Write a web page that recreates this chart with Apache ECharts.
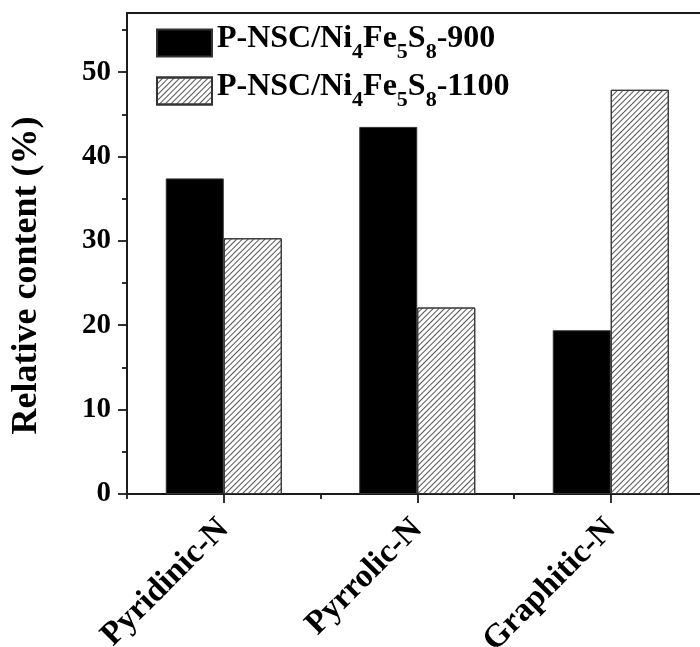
<!DOCTYPE html>
<html>
<head>
<meta charset="utf-8">
<script src="https://cdn.jsdelivr.net/npm/echarts@6/dist/echarts.min.js"></script>
<style>html,body{margin:0;padding:0;background:#fff;}#chart{width:700px;height:647px;}</style>
</head>
<body>
<div id="chart"></div>
<script>
var categories = ['Pyridinic-N', 'Pyrrolic-N', 'Graphitic-N'];
var seriesNames = ['P-NSC/Ni4Fe5S8-900', 'P-NSC/Ni4Fe5S8-1100'];
var legendRich = {
  'P-NSC/Ni4Fe5S8-900': '{m|P-NSC/Ni}{s|4}{m|Fe}{s|5}{m|S}{s|8}{m|-900}',
  'P-NSC/Ni4Fe5S8-1100': '{m|P-NSC/Ni}{s|4}{m|Fe}{s|5}{m|S}{s|8}{m|-1100}'
};
var values900 = [37.4, 43.5, 19.4];
var values1100 = [30.3, 22.1, 47.9];
var yTicks = [0, 10, 20, 30, 40, 50];
var yMinorTicks = [5, 15, 25, 35, 45, 55];

var FONT = '"Liberation Serif", "Times New Roman", serif';
var chart = echarts.init(document.getElementById('chart'), null, {renderer: 'canvas'});
var axisLineStyle = {color: '#1a1a1a', width: 1.8};

chart.setOption({
  backgroundColor: '#fff',
  animation: false,
  grid: {left: 127, top: 13, width: 580.5, height: 481, outerBoundsMode: 'none', containLabel: false,
         show: true, borderColor: '#1a1a1a', borderWidth: 1.8, backgroundColor: 'transparent'},
  legend: {
    orient: 'vertical', left: 151, top: 18, itemWidth: 55, itemHeight: 27, itemGap: 8,
    icon: 'rect',
    data: seriesNames,
    formatter: function (n) { return legendRich[n]; },
    textStyle: {
      fontFamily: FONT, fontWeight: 'bold', color: '#000',
      rich: {
        m: {fontFamily: FONT, fontWeight: 'bold', fontSize: 32, lineHeight: 40, verticalAlign: 'top', color: '#000'},
        s: {fontFamily: FONT, fontWeight: 'bold', fontSize: 22, lineHeight: 22, verticalAlign: 'bottom', color: '#000'}
      }
    }
  },
  xAxis: [{
    type: 'category', data: categories, position: 'bottom', boundaryGap: true,
    axisLine: {show: true, lineStyle: axisLineStyle},
    axisTick: {show: true, alignWithLabel: true, length: 9, lineStyle: axisLineStyle},
    axisLabel: {rotate: 45, margin: 30, fontFamily: FONT, fontWeight: 'bold', fontSize: 33, color: '#000'},
    splitLine: {show: false}
  }, {
    type: 'category', data: categories, position: 'bottom', boundaryGap: true,
    axisLine: {show: false},
    axisTick: {show: true, length: 5, lineStyle: axisLineStyle},
    axisLabel: {show: false},
    splitLine: {show: false}
  }],
  yAxis: [{
    type: 'value', min: 0, max: 57, interval: 10,
    name: 'Relative content (%)', nameLocation: 'middle', nameGap: 82, nameRotate: 90,
    nameTextStyle: {fontFamily: FONT, fontWeight: 'bold', fontSize: 36, color: '#000', padding: [0, 44, 0, 0]},
    axisLine: {show: true, lineStyle: axisLineStyle},
    axisTick: {show: true, length: 9, lineStyle: axisLineStyle, customValues: yTicks},
    axisLabel: {margin: 16, fontFamily: FONT, fontWeight: 'bold', fontSize: 29, color: '#000', customValues: yTicks},
    splitLine: {show: false}
  }, {
    type: 'value', min: 0, max: 57, position: 'left',
    axisLine: {show: false},
    axisTick: {show: true, length: 5, lineStyle: axisLineStyle, customValues: yMinorTicks},
    axisLabel: {show: false},
    splitLine: {show: false}
  }],
  series: [{
    name: seriesNames[0], type: 'bar', xAxisIndex: 0, yAxisIndex: 0,
    data: values900, barWidth: 58, barGap: '0%',
    itemStyle: {color: '#000', borderColor: '#333', borderWidth: 1}
  }, {
    name: seriesNames[1], type: 'bar', xAxisIndex: 0, yAxisIndex: 0,
    data: values1100, barWidth: 58, barGap: '0%',
    itemStyle: {
      color: '#fff', borderColor: '#333', borderWidth: 1,
      decal: {symbol: 'rect', color: '#555', dashArrayX: [1, 0], dashArrayY: [1, 3], rotation: -Math.PI / 4, symbolSize: 1}
    }
  }]
});
</script>
</body>
</html>
